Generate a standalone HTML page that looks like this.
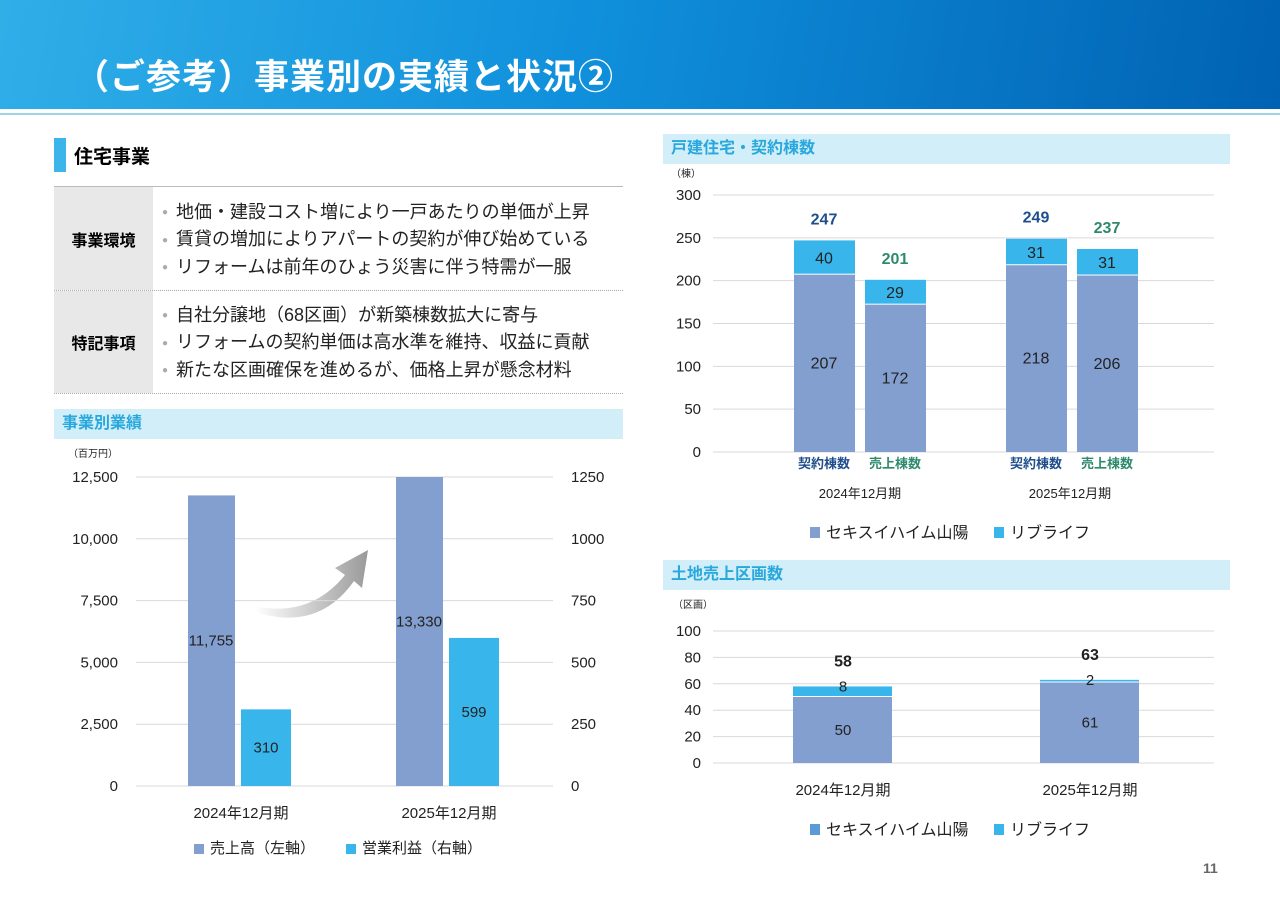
<!DOCTYPE html>
<html><head><meta charset="utf-8"><style>
body{margin:0;width:1280px;height:904px;position:relative;background:#fff;font-family:"Liberation Sans","Noto Sans CJK JP",sans-serif;overflow:hidden}
.a{position:absolute}
.hdr{left:0;top:0;width:1280px;height:109px;background:linear-gradient(100deg,#30aee8 0%,#1090dc 45%,#0062b2 100%)}
.title{left:74px;top:49px;color:#fff;font-size:35px;font-weight:bold;letter-spacing:1px}
.band{background:#d2eef9;color:#28a8dc;font-weight:bold;font-size:16px;padding-left:8px;box-sizing:border-box}
.row{left:54px;width:569px;border-bottom:1px dotted #aaa}
.lab{position:absolute;left:0;top:0;width:99px;height:100%;background:#e8e8e8;font-weight:bold;font-size:16px;display:flex;align-items:center;justify-content:center}
.items{position:absolute;left:108px;font-size:18px;color:#222;line-height:26px;white-space:nowrap}
.items span{color:#aaa;font-size:10px;margin-right:8px;vertical-align:middle}
</style></head><body>
<div class="a hdr"></div>
<div class="a title">（ご参考）事業別の実績と状況②</div>
<div class="a" style="left:0;top:113px;width:1280px;height:2px;background:#9fd3e6"></div>
<div class="a" style="left:54px;top:138px;width:12px;height:34px;background:#3cb6ea"></div>
<div class="a" style="left:74px;top:142px;font-size:19px;font-weight:bold">住宅事業</div>
<div class="a" style="left:54px;top:186px;width:569px;height:1px;background:#bbb"></div>
<div class="a row" style="top:187px;height:103px">
 <div class="lab">事業環境</div>
 <div class="items" style="top:12px"><div><span>●</span>地価・建設コスト増により一戸あたりの単価が上昇</div><div><span>●</span>賃貸の増加によりアパートの契約が伸び始めている</div><div><span>●</span>リフォームは前年のひょう災害に伴う特需が一服</div></div>
</div>
<div class="a row" style="top:291px;height:102px">
 <div class="lab">特記事項</div>
 <div class="items" style="top:11px"><div><span>●</span>自社分譲地（68区画）が新築棟数拡大に寄与</div><div><span>●</span>リフォームの契約単価は高水準を維持、収益に貢献</div><div><span>●</span>新たな区画確保を進めるが、価格上昇が懸念材料</div></div>
</div>
<div class="a band" style="left:54px;top:409px;width:569px;height:30px;line-height:30px">事業別業績</div>
<div class="a band" style="left:663px;top:134px;width:567px;height:30px;line-height:30px">戸建住宅・契約棟数</div>
<div class="a band" style="left:663px;top:560px;width:567px;height:30px;line-height:30px">土地売上区画数</div>
<div class="a" style="left:1203px;top:860px;font-size:14px;font-weight:bold;color:#666">11</div>
<svg id="s" class="a" style="left:0;top:0" width="1280" height="904" xmlns="http://www.w3.org/2000/svg">
<defs><linearGradient id="ag" x1="0" y1="0" x2="1" y2="0"><stop offset="0" stop-color="#fff"/><stop offset="1" stop-color="#9a9a9a"/></linearGradient></defs>
<path d="M255,606 Q310,618 345,575 L335,568 L368,550 L362,588 L354,581 Q318,632 255,612 Z" fill="url(#ag)"/>
</svg>
<script>
const periods=["2024年12月期","2025年12月期"];
const salesVals=[11755,13330];
const profitVals=[310,599];
const leftTicks=[0,2500,5000,7500,10000,12500];
const rightTicks=[0,250,500,750,1000,1250];
const contractSekisui=[207,172,218,206];
const contractLib=[40,29,31,31];
const contractCats=["契約棟数","売上棟数","契約棟数","売上棟数"];
const contractTicks=[0,50,100,150,200,250,300];
const landSekisui=[50,61];
const landLib=[8,2];
const landTicks=[0,20,40,60,80,100];
const C1="#829fcf",C2="#38b5eb";
const S=document.getElementById('s');const NS="http://www.w3.org/2000/svg";
function el(t,a,txt){const e=document.createElementNS(NS,t);for(const k in a)e.setAttribute(k,a[k]);if(txt!==undefined)e.textContent=txt;S.appendChild(e);return e;}
function tx(x,y,s,o){return el('text',Object.assign({x:x,y:y,'font-size':15,fill:'#222','text-anchor':'middle','font-family':'Liberation Sans, Noto Sans CJK JP, sans-serif'},o||{}),s);}
const fmt=v=>v.toLocaleString('en-US');
// chart A
const yA=v=>786-v/12500*309, yAr=v=>786-v/1250*309;
leftTicks.forEach(t=>{const l=el('line',{x1:136,x2:553,y1:yA(t),y2:yA(t),stroke:'#d9d9d9'});
 const e=tx(118,yA(t)+5,fmt(t),{'text-anchor':'end'});});
rightTicks.forEach(t=>{const e=tx(571,yAr(t)+5,String(t),{'text-anchor':'start'});});
tx(93,457,"（百万円）",{'font-size':10});
const gx=[239,447];
periods.forEach((p,i)=>{
 const top=Math.max(yA(salesVals[i]),477);
 const r=el('rect',{x:gx[i]-51,y:top,width:47,height:786-top,fill:C1});
 tx(gx[i]-28,(top+786)/2+(salesVals[i]>12500?-5:5),fmt(salesVals[i]));
 const pt=yAr(profitVals[i]);
 const r2=el('rect',{x:gx[i]+2,y:pt,width:50,height:786-pt,fill:C2});
 tx(gx[i]+27,(pt+786)/2+5,String(profitVals[i]));
 tx(gx[i]+2,818,p);
});
el('rect',{x:194,y:844,width:10,height:10,fill:C1});tx(210,853,"売上高（左軸）",{'text-anchor':'start'});
el('rect',{x:346,y:844,width:10,height:10,fill:C2});tx(362,853,"営業利益（右軸）",{'text-anchor':'start'});
// chart B
const yB=v=>452-v/300*257;
contractTicks.forEach(t=>{const l=el('line',{x1:713,x2:1214,y1:yB(t),y2:yB(t),stroke:'#d9d9d9'});
 const e=tx(701,yB(t)+5,String(t),{'text-anchor':'end'});});
tx(686,177,"（棟）",{'font-size':10});
const bx=[794,865,1006,1077];
contractCats.forEach((c,i)=>{
 const a=contractSekisui[i],b=contractLib[i],tot=a+b;
 const r=el('rect',{x:bx[i],y:yB(a),width:61,height:452-yB(a),fill:C1});
 const r2=el('rect',{x:bx[i],y:yB(tot),width:61,height:yB(a)-yB(tot)-1,fill:C2});
 tx(bx[i]+30,(yB(a)+452)/2+5,String(a),{'font-size':16});
 tx(bx[i]+30,(yB(tot)+yB(a))/2+6,String(b),{'font-size':16});
 const col=i%2?'#2e8a6e':'#1f4e8c';
 tx(bx[i]+30,yB(tot)-16,String(tot),{'font-weight':'bold',fill:col,'font-size':16});
 tx(bx[i]+30,468,c,{'font-size':13,'font-weight':'bold',fill:col});
});
tx(860,498,periods[0],{'font-size':13});tx(1070,498,periods[1],{'font-size':13});
el('rect',{x:810,y:527,width:10,height:11,fill:C1});tx(826,538,"セキスイハイム山陽",{'text-anchor':'start','font-size':16});
el('rect',{x:994,y:527,width:10,height:11,fill:C2});tx(1010,538,"リブライフ",{'text-anchor':'start','font-size':16});
// chart C
const yC=v=>763-v/100*132;
landTicks.forEach(t=>{const l=el('line',{x1:713,x2:1214,y1:yC(t),y2:yC(t),stroke:'#d9d9d9'});
 const e=tx(701,yC(t)+5,String(t),{'text-anchor':'end'});});
tx(693,608,"（区画）",{'font-size':10});
const cx=[843,1090];
periods.forEach((p,i)=>{
 const a=landSekisui[i],b=landLib[i],tot=a+b;
 const r=el('rect',{x:cx[i]-50,y:yC(a),width:99,height:763-yC(a),fill:C1});
 const r2=el('rect',{x:cx[i]-50,y:yC(tot),width:99,height:Math.max(yC(a)-yC(tot)-1,1),fill:C2});
 tx(cx[i],(yC(a)+763)/2+5,String(a));
 const sh=yC(a)-yC(tot);
 tx(cx[i],sh>12?(yC(tot)+yC(a))/2+5:yC(tot)+5,String(b));
 tx(cx[i],yC(tot)-20,String(tot),{'font-weight':'bold','font-size':16});
 tx(cx[i],795,p);
});
el('rect',{x:810,y:824,width:10,height:11,fill:"#5b9bd5"});tx(826,835,"セキスイハイム山陽",{'text-anchor':'start','font-size':16});
el('rect',{x:994,y:824,width:10,height:11,fill:C2});tx(1010,835,"リブライフ",{'text-anchor':'start','font-size':16});
</script>
</body></html>
